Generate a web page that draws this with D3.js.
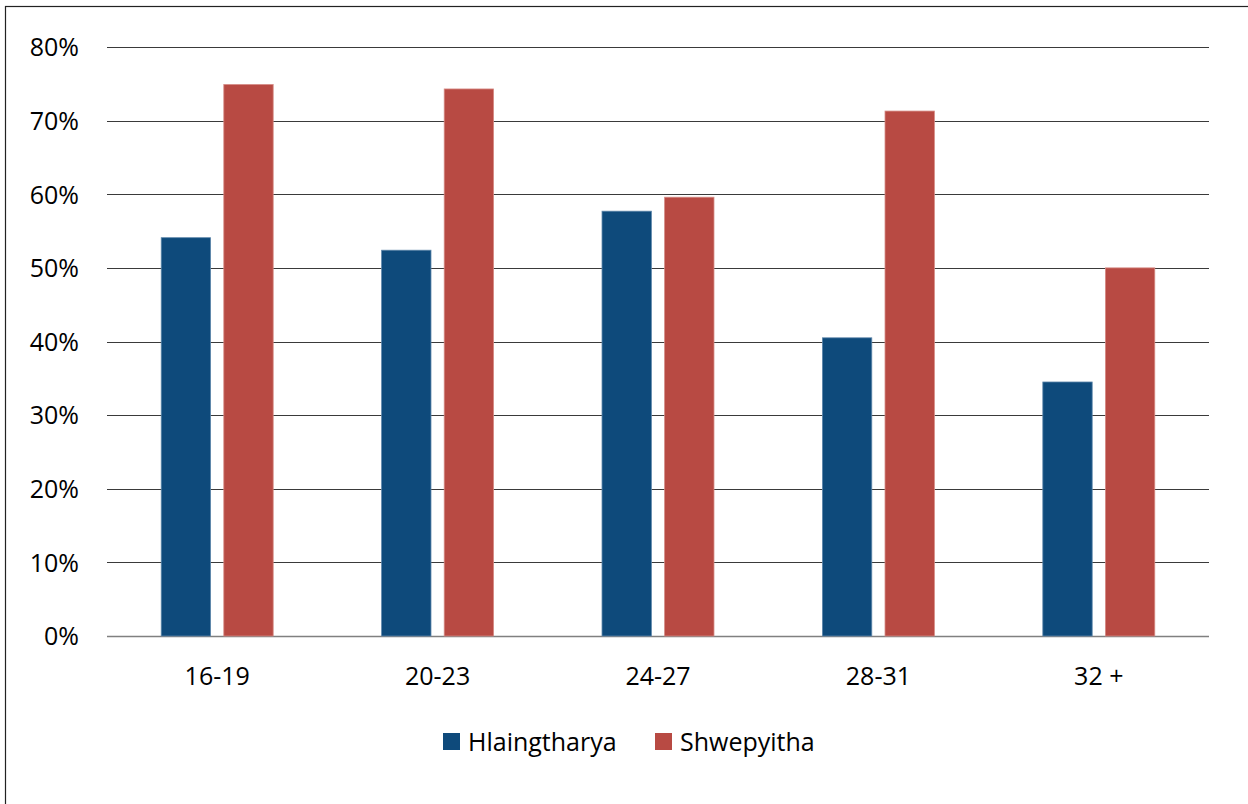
<!DOCTYPE html>
<html>
<head>
<meta charset="utf-8">
<script src="https://cdn.jsdelivr.net/npm/d3@7/dist/d3.min.js"></script>
<style>
  html, body { margin: 0; padding: 0; background: #fff; }
  svg { display: block; }
  text { font-family: "Open Sans", "Noto Sans", sans-serif; fill: #000; }
</style>
</head>
<body>
<svg id="chart" width="1248" height="804"></svg>
<script>
// Age groups and share of respondents per township
const categories = ["16-19", "20-23", "24-27", "28-31", "32 +"];
const seriesNames = ["Hlaingtharya", "Shwepyitha"];
const hlaingtharya = [0.541, 0.524, 0.577, 0.405, 0.345];
const shwepyitha = [0.749, 0.743, 0.596, 0.713, 0.500];
const yTicks = [0, 0.1, 0.2, 0.3, 0.4, 0.5, 0.6, 0.7, 0.8];

const colors = { Hlaingtharya: "#0E4A7B", Shwepyitha: "#B84A43" };
const strokes = { Hlaingtharya: "#5d86aa", Shwepyitha: "#d58a84" };
const FONT_SIZE = 25;

const svg = d3.select("#chart");
const W = 1248, H = 804;
const plot = { left: 107, right: 1209, top: 47, bottom: 636 };

// outer frame (open on right and bottom edges of the canvas)
svg.append("rect")
  .attr("x", 5.5).attr("y", 6.5)
  .attr("width", W + 20).attr("height", H + 20)
  .attr("fill", "none").attr("stroke", "#222").attr("stroke-width", 1.2);

const x = d3.scaleBand().domain(categories).range([plot.left, plot.right]).padding(0);
const y = d3.scaleLinear().domain([0, 0.8]).range([plot.bottom, plot.top]);

// gridlines
svg.append("g").selectAll("line").data(yTicks).join("line")
  .attr("x1", plot.left).attr("x2", plot.right)
  .attr("y1", d => Math.round(y(d)) + 0.5).attr("y2", d => Math.round(y(d)) + 0.5)
  .attr("stroke", d => d === 0 ? "#808080" : "#3a3a3a")
  .attr("stroke-width", d => d === 0 ? 1.6 : 1.2);

// y-axis labels
const yAxis = d3.axisLeft(y).tickValues(yTicks).tickFormat(d3.format(".0%")).tickSize(0).tickPadding(0);
const gy = svg.append("g").attr("transform", "translate(79,0)").call(yAxis);
gy.select(".domain").remove();
gy.selectAll("text").attr("font-size", FONT_SIZE).attr("font-family", "'Open Sans', sans-serif").attr("dy", "0.35em");

// bars
const barW = x.bandwidth() * 0.224;
const gap = x.bandwidth() * 0.06;
const offsets = { Hlaingtharya: -gap / 2 - barW, Shwepyitha: gap / 2 };
const rows = categories.map((c, i) => ({ c, Hlaingtharya: hlaingtharya[i], Shwepyitha: shwepyitha[i] }));

seriesNames.forEach(s => {
  svg.append("g").selectAll("rect").data(rows).join("rect")
    .attr("x", d => x(d.c) + x.bandwidth() / 2 + offsets[s])
    .attr("y", d => y(d[s]))
    .attr("width", barW)
    .attr("height", d => y(0) - y(d[s]))
    .attr("fill", colors[s])
    .attr("stroke", strokes[s])
    .attr("stroke-width", 0.8);
});

// x-axis labels
const xAxis = d3.axisBottom(x).tickSize(0).tickPadding(0);
const gx = svg.append("g").attr("transform", `translate(0,${plot.bottom})`).call(xAxis);
gx.select(".domain").remove();
gx.selectAll("text").attr("font-size", FONT_SIZE).attr("font-family", "'Open Sans', sans-serif")
  .attr("y", 40).attr("dy", "0.35em");

// legend
const legend = svg.append("g");
const legendItems = [
  { name: "Hlaingtharya", x: 443 },
  { name: "Shwepyitha", x: 655 }
];
legendItems.forEach(it => {
  legend.append("rect").attr("x", it.x).attr("y", 733).attr("width", 17).attr("height", 17)
    .attr("fill", colors[it.name]);
  legend.append("text").attr("x", it.x + 25).attr("y", 742).attr("dy", "0.35em")
    .attr("font-size", FONT_SIZE).text(it.name);
});
</script>
</body>
</html>
